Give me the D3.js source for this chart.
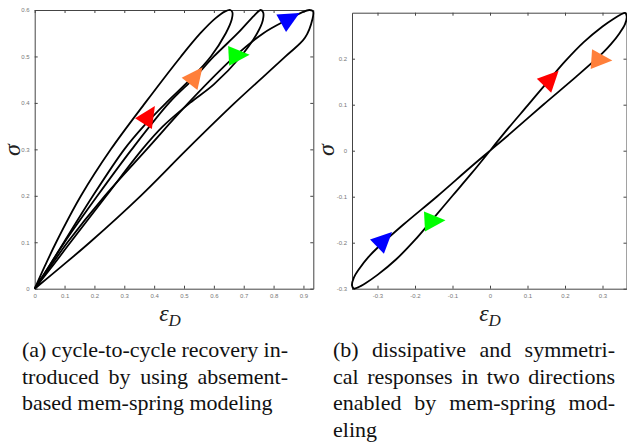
<!DOCTYPE html>
<html>
<head>
<meta charset="utf-8">
<script src="https://cdn.jsdelivr.net/npm/d3@7"></script>
</head>
<body style="margin:0">
<svg id="chart" width="627" height="443"></svg>
<script>
// ---- data ----
const leftXTicks = [0, 0.1, 0.2, 0.3, 0.4, 0.5, 0.6, 0.7, 0.8, 0.9];
const leftYTicks = [0, 0.1, 0.2, 0.3, 0.4, 0.5, 0.6];
const rightXTicks = [-0.3, -0.2, -0.1, 0, 0.1, 0.2, 0.3];
const rightYTicks = [-0.3, -0.2, -0.1, 0, 0.1, 0.2];

// three loading/unloading cycles (strain, stress)
const loop1 = [[0, 0], [0.035, 0.05], [0.072, 0.1], [0.155, 0.2], [0.255, 0.3], [0.37, 0.4], [0.49, 0.5],
  [0.555, 0.55], [0.605, 0.582], [0.638, 0.597], [0.655, 0.6], [0.662, 0.595], [0.66, 0.58],
  [0.64, 0.55], [0.59, 0.5], [0.52, 0.45], [0.44, 0.4], [0.365, 0.35], [0.3, 0.3], [0.195, 0.2],
  [0.098, 0.1], [0.045, 0.045], [0, 0]];
const loop2 = [[0, 0], [0.05, 0.05], [0.1, 0.1], [0.21, 0.2], [0.325, 0.3], [0.45, 0.4], [0.533, 0.453],
  [0.6, 0.5], [0.68, 0.55], [0.735, 0.588], [0.757, 0.6], [0.765, 0.595], [0.764, 0.578],
  [0.745, 0.55], [0.69, 0.5], [0.6, 0.44], [0.52, 0.4], [0.43, 0.35], [0.36, 0.3], [0.24, 0.2],
  [0.12, 0.1], [0.055, 0.045], [0, 0]];
const loop3 = [[0, 0], [0.055, 0.05], [0.11, 0.1], [0.235, 0.2], [0.375, 0.3], [0.515, 0.4], [0.67, 0.5],
  [0.766, 0.55], [0.846, 0.579], [0.895, 0.595], [0.92, 0.6], [0.932, 0.597], [0.93, 0.58],
  [0.905, 0.54], [0.84, 0.5], [0.67, 0.4], [0.51, 0.3], [0.355, 0.2], [0.185, 0.1], [0.09, 0.048], [0, 0]];

// symmetric two-direction cycle
const loopB = [[0, 0], [0.05, 0.05], [0.1, 0.098], [0.157, 0.153], [0.2, 0.194], [0.25, 0.236],
  [0.3, 0.27], [0.33, 0.287], [0.35, 0.2965], [0.36, 0.2995], [0.3645, 0.292], [0.36, 0.275],
  [0.345, 0.255], [0.322, 0.231], [0.3, 0.212], [0.23, 0.161], [0.142, 0.1], [0.052, 0.036], [0, 0],
  [-0.052, -0.036], [-0.142, -0.1], [-0.23, -0.16], [-0.3, -0.211], [-0.325, -0.232], [-0.348, -0.256],
  [-0.363, -0.276], [-0.368, -0.293], [-0.363, -0.2995], [-0.352, -0.297], [-0.332, -0.288],
  [-0.3, -0.27], [-0.25, -0.236], [-0.2, -0.194], [-0.156, -0.152], [-0.1, -0.098], [-0.05, -0.05], [0, 0]];

// direction markers: x, y, heading in degrees (screen, 0 = right)
const arrowsA = [
  {x: 0.377, y: 0.368, heading: -57, color: '#ff0000'},
  {x: 0.533, y: 0.453, heading: -52, color: '#ff7f3a'},
  {x: 0.673, y: 0.502, heading: -3, color: '#00ff00'},
  {x: 0.846, y: 0.579, heading: -29, color: '#0000ff'}
];
const arrowsB = [
  {x: 0.157, y: 0.152, heading: -46, color: '#ff0000'},
  {x: 0.289, y: 0.198, heading: 4, color: '#ff7f3a'},
  {x: -0.156, y: -0.153, heading: -3, color: '#00ff00'},
  {x: -0.288, y: -0.198, heading: -44, color: '#0000ff'}
];

const captionA = ['(a) cycle-to-cycle recovery in-', 'troduced by using absement-', 'based mem-spring modeling'];
const captionB = ['(b) dissipative and symmetri-', 'cal responses in two directions', 'enabled by mem-spring mod-', 'eling'];

// ---- drawing ----
const svg = d3.select('#chart').attr('font-family', 'Liberation Serif');
const serif = "'Liberation Serif'";

function panel(opts) {
  const x = d3.scaleLinear().domain(opts.xDomain).range([opts.left, opts.right]);
  const y = d3.scaleLinear().domain(opts.yDomain).range([opts.bottom, opts.top]);
  const g = svg.append('g');
  const fmt = d => (Math.abs(d) < 1e-9 ? '0' : d3.format('.1f')(d).replace('−', '-'));

  const axes = [
    {axis: d3.axisBottom(x).tickFormat(fmt), t: `translate(0,${opts.bottom})`},
    {axis: d3.axisTop(x).tickFormat(''), t: `translate(0,${opts.top})`},
    {axis: d3.axisLeft(y).tickFormat(fmt), t: `translate(${opts.left},0)`},
    {axis: d3.axisRight(y).tickFormat(''), t: `translate(${opts.right},0)`}
  ];
  axes.forEach((a, i) => {
    a.axis.tickValues(i < 2 ? opts.xTicks : opts.yTicks).tickSize(-3).tickSizeOuter(0).tickPadding(5);
    g.append('g')
      .attr('transform', a.t)
      .call(a.axis)
      .call(s => s.select('.domain').attr('stroke', '#444').attr('stroke-width', 1))
      .call(s => s.selectAll('.tick line').attr('stroke', '#444'))
      .call(s => s.selectAll('text')
        .style('font-family', "'Liberation Sans'")
        .style('font-size', '6px')
        .attr('fill', '#777'));
  });

  const line = d3.line().x(d => x(d[0])).y(d => y(d[1])).curve(d3.curveCatmullRom.alpha(0.5));
  g.append('g')
    .attr('fill', 'none')
    .attr('stroke', '#000')
    .attr('stroke-width', 1.8)
    .attr('stroke-linejoin', 'round')
    .selectAll('path')
    .data(opts.loops)
    .join('path')
    .attr('d', line);

  const len = 21, wid = 20;
  const tri = `M${(2 * len) / 3},0L${-len / 3},${-wid / 2}L${-len / 3},${wid / 2}Z`;
  g.append('g')
    .selectAll('path')
    .data(opts.arrows)
    .join('path')
    .attr('d', tri)
    .attr('fill', d => d.color)
    .attr('transform', d => `translate(${x(d.x)},${y(d.y)}) rotate(${d.heading})`);

  // axis titles
  const xl = g.append('text')
    .style('font-family', serif)
    .style('font-style', 'italic')
    .attr('x', opts.xLabelX)
    .attr('y', 321)
    .attr('text-anchor', 'middle')
    .attr('fill', '#222');
  xl.append('tspan').style('font-size', '24px').text('ε');
  xl.append('tspan').style('font-size', '17px').attr('dy', 5).text('D');

  g.append('text')
    .style('font-family', serif)
    .style('font-style', 'italic')
    .style('font-size', '24px')
    .attr('transform', `translate(${opts.yLabelX},150) rotate(-90)`)
    .attr('text-anchor', 'middle')
    .attr('dy', '0.3em')
    .attr('fill', '#222')
    .text('σ');
}

panel({
  xDomain: [0, 0.933], yDomain: [0, 0.6],
  left: 34.7, right: 313.3, top: 10, bottom: 288.7,
  xTicks: leftXTicks, yTicks: leftYTicks,
  loops: [loop1, loop2, loop3], arrows: arrowsA,
  xLabelX: 170, yLabelX: 13
});

panel({
  xDomain: [-0.368, 0.364], yDomain: [-0.3, 0.3],
  left: 352, right: 626.5, top: 12.7, bottom: 288.7,
  xTicks: rightXTicks, yTicks: rightYTicks,
  loops: [loopB], arrows: arrowsB,
  xLabelX: 490, yLabelX: 327
});

// justified captions (measured on a canvas so the svg text is laid out once)
const ctx = document.createElement('canvas').getContext('2d');
ctx.font = "22px 'Liberation Serif'";
function caption(lines, left, right, firstBaseline, lead) {
  const width = right - left;
  lines.forEach((txt, i) => {
    const gaps = txt.split(' ').length - 1;
    let ws = 0;
    if (i < lines.length - 1 && gaps > 0) {
      ws = (width - ctx.measureText(txt).width) / gaps;
    }
    svg.append('text')
      .style('font-family', serif)
      .style('font-size', '22px')
      .style('word-spacing', `${ws}px`)
      .attr('x', left)
      .attr('y', firstBaseline + i * lead)
      .attr('fill', '#111')
      .text(txt);
  });
}
caption(captionA, 22, 288, 357, 26.5);
caption(captionB, 333, 615, 357, 26.5);
</script>
</body>
</html>
